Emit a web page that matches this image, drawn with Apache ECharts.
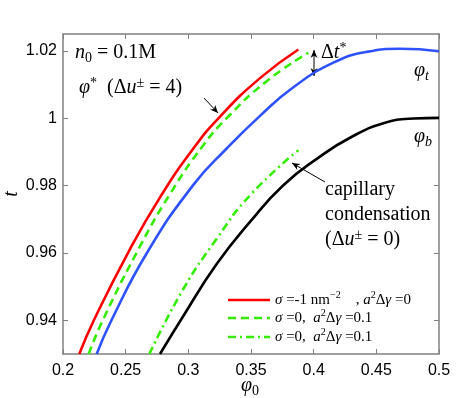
<!DOCTYPE html>
<html>
<head>
<meta charset="utf-8">
<script src="https://cdn.jsdelivr.net/npm/echarts@6/dist/echarts.min.js"></script>
<style>
html, body { margin: 0; padding: 0; background: #fff; }
#main { width: 457px; height: 398px; }
</style>
</head>
<body>
<div id="main"></div>
<script>
// values
var xTicks = [0.2, 0.25, 0.3, 0.35, 0.4, 0.45, 0.5];
var yTicks = [0.94, 0.96, 0.98, 1, 1.02];

var phiRed = [0.213, 0.225, 0.2521, 0.2774, 0.304, 0.3253, 0.3572, 0.3878];
var tRed   = [0.930, 0.9403, 0.9602, 0.9765, 0.991, 1.0005, 1.0119, 1.0204];

var phiDash = [0.2205, 0.2317, 0.2615, 0.2854, 0.312, 0.3306, 0.3625, 0.3957];
var tDash   = [0.930, 0.9400, 0.962, 0.9775, 0.992, 1.0, 1.011, 1.0194];

var phiTop = [0.2269, 0.238, 0.2673, 0.304, 0.3306, 0.3572, 0.3838, 0.4157, 0.4423, 0.469, 0.5];
var tTop   = [0.930, 0.9395, 0.9602, 0.9802, 0.991, 1.0007, 1.0092, 1.0165, 1.0197, 1.0206, 1.0199];

var phiBot = [0.2774, 0.296, 0.3226, 0.3492, 0.3758, 0.405, 0.429, 0.4556, 0.48, 0.5];
var tBot   = [0.930, 0.9413, 0.9567, 0.9692, 0.9801, 0.9886, 0.9942, 0.9985, 0.9999, 1.0001];

var phiDot = [0.2689, 0.296, 0.3226, 0.3492, 0.3878];
var tDot   = [0.930, 0.9493, 0.9642, 0.9771, 0.9905];

function pairs(xs, ys) {
    return xs.map(function (x, i) { return [x, ys[i]]; });
}

var SERIF = '"Liberation Serif", "DejaVu Serif", serif';
var GRAY = '#808080';

function richStyles(size) {
    var sub = Math.round(size * 0.68);
    return {
        it: { fontFamily: SERIF, fontStyle: 'italic', fontSize: size, lineHeight: size + 4, fill: '#000' },
        rm: { fontFamily: SERIF, fontSize: size, lineHeight: size + 4, fill: '#000' },
        sub: { fontFamily: SERIF, fontSize: sub, lineHeight: sub, verticalAlign: 'bottom', fill: '#000' },
        subit: { fontFamily: SERIF, fontStyle: 'italic', fontSize: sub, lineHeight: sub, verticalAlign: 'bottom', fill: '#000' },
        sup: { fontFamily: SERIF, fontSize: sub, lineHeight: sub, verticalAlign: 'top', fill: '#000' }
    };
}

function label(x, y, text, size, align) {
    return {
        type: 'text',
        x: x, y: y,
        style: { text: text, rich: richStyles(size || 20), verticalAlign: 'middle', align: align || 'left' }
    };
}

function arrow(x1, y1, x2, y2, both) {
    var els = [{
        type: 'line',
        shape: { x1: x1, y1: y1, x2: x2, y2: y2 },
        style: { stroke: '#000', lineWidth: 1 }
    }];
    function head(tx, ty, fx, fy) {
        var a = Math.atan2(ty - fy, tx - fx), L = 8, W = 3.5;
        var bx = tx - L * Math.cos(a), by = ty - L * Math.sin(a);
        return {
            type: 'polygon',
            shape: { points: [[tx, ty],
                [bx + W * Math.sin(a), by - W * Math.cos(a)],
                [tx - L * 0.7 * Math.cos(a), ty - L * 0.7 * Math.sin(a)],
                [bx - W * Math.sin(a), by + W * Math.cos(a)]] },
            style: { fill: '#000' }
        };
    }
    els.push(head(x2, y2, x1, y1));
    if (both) els.push(head(x1, y1, x2, y2));
    return els;
}

function legendRow(y, color, dash, text) {
    return [{
        type: 'line',
        shape: { x1: 228, y1: y, x2: 270, y2: y },
        style: { stroke: color, lineWidth: 2.6, lineDash: dash }
    }, label(275, y, text, 15)];
}

var yName = label(12, 194, '{it|t}', 20, 'center');
yName.rotation = Math.PI / 2;
yName.originX = 0;
yName.originY = 0;

var graphics = [].concat(
    label(75, 53, '{it|n}{sub|0}{rm| = 0.1M}'),
    label(79, 88, '{it|φ}{sup|*}{rm|  (Δ}{it|u}{sup|±}{rm| = 4)}'),
    arrow(204, 98, 218, 113),
    label(321, 53, '{rm|Δ}{it|t}{sup|*}'),
    arrow(314, 50, 314, 76, true),
    label(414, 71, '{it|φ}{subit|t}'),
    label(414, 137, '{it|φ}{subit|b}'),
    label(325, 190, '{rm|capillary}'),
    label(325, 215, '{rm|condensation}'),
    label(325, 240, '{rm|(Δ}{it|u}{sup|±}{rm| = 0)}'),
    arrow(325, 182, 292, 163),
    legendRow(300, '#ff0000', null, '{it|σ}{rm| =-1 nm}{sup|−2}{rm|    , }{it|a}{sup|2}{rm|Δ}{it|γ}{rm| =0}'),
    legendRow(318, '#33ee00', [8, 5], '{it|σ}{rm| =0,  }{it|a}{sup|2}{rm|Δ}{it|γ}{rm| =0.1}'),
    legendRow(337, '#33ee00', [8, 4, 2, 4], '{it|σ}{rm| =0,  }{it|a}{sup|2}{rm|Δ}{it|γ}{rm| =0.1}'),
    label(250, 386, '{it|φ}{sub|0}', 20, 'center'),
    yName
);

function xAxisDef(pos, labels) {
    return {
        type: 'value', position: pos, min: 0.2, max: 0.5,
        axisLine: { show: true, onZero: false, lineStyle: { color: GRAY, width: 1.5 } },
        axisTick: { show: true, inside: true, length: 5, customValues: xTicks, lineStyle: { color: GRAY } },
        axisLabel: { show: labels, customValues: xTicks, color: '#000', fontSize: 16, margin: 9,
            fontFamily: '"Liberation Sans", Arial, sans-serif' },
        splitLine: { show: false }
    };
}

function yAxisDef(pos, labels) {
    return {
        type: 'value', position: pos, min: 0.93, max: 1.025,
        axisLine: { show: true, onZero: false, lineStyle: { color: GRAY, width: 1.5 } },
        axisTick: { show: true, inside: true, length: 5, customValues: yTicks, lineStyle: { color: GRAY } },
        axisLabel: { show: labels, customValues: yTicks, color: '#000', fontSize: 16, margin: 6,
            fontFamily: '"Liberation Sans", Arial, sans-serif' },
        splitLine: { show: false }
    };
}

function lineSeries(data, color, type) {
    return {
        type: 'line', data: data, showSymbol: false, smooth: 0.5,
        lineStyle: { color: color, width: 2.6, type: type || 'solid' },
        animation: false
    };
}

var option = {
    animation: false,
    grid: { left: 63, right: 18, top: 34, bottom: 44, containLabel: false, outerBoundsMode: 'none' },
    xAxis: [xAxisDef('bottom', true), xAxisDef('top', false)],
    yAxis: [yAxisDef('left', true), yAxisDef('right', false)],
    series: [
        lineSeries(pairs(phiTop, tTop), '#2f52ff'),
        lineSeries(pairs(phiBot, tBot), '#000000'),
        lineSeries(pairs(phiDot, tDot), '#33ee00', [8, 4, 2, 4]),
        lineSeries(pairs(phiDash, tDash), '#33ee00', [8, 5]),
        lineSeries(pairs(phiRed, tRed), '#ff0000')
    ],
    graphic: graphics
};

var chart = echarts.init(document.getElementById('main'));
chart.setOption(option);
</script>
</body>
</html>
